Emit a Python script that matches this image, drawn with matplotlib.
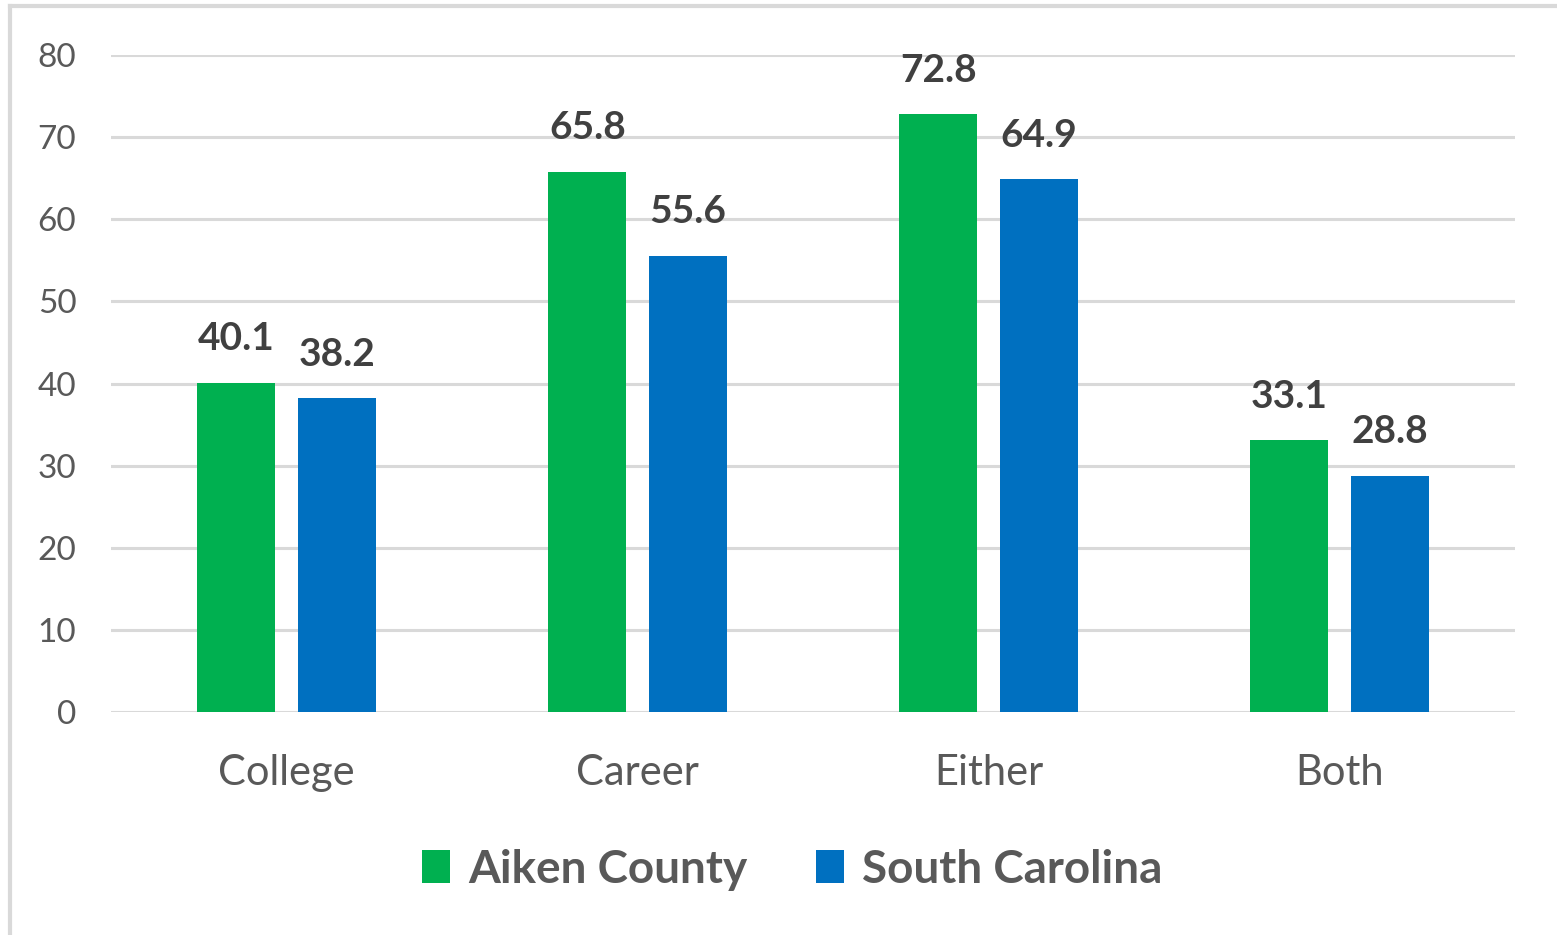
import matplotlib
matplotlib.use("Agg")
import matplotlib.pyplot as plt
import numpy as np
from matplotlib.lines import Line2D

categories = ["College", "Career", "Either", "Both"]
aiken = [40.1, 65.8, 72.8, 33.1]
south_carolina = [38.2, 55.6, 64.9, 28.8]
yticks = [0, 10, 20, 30, 40, 50, 60, 70, 80]

GREEN = "#00B050"
BLUE = "#0070C0"
GRID = "#D9D9D9"
TEXT = "#595959"

plt.rcParams["font.family"] = ["Lato", "DejaVu Sans"]

fig = plt.figure(figsize=(15.57, 9.35), dpi=100)
ax = fig.add_axes([0.0713, 0.2385, 0.9017, 0.7025])

x = np.arange(len(categories))
w = 0.222
off = 0.143
b1 = ax.bar(x - off, aiken, w, color=GREEN, label="Aiken County", zorder=3)
b2 = ax.bar(x + off, south_carolina, w, color=BLUE, label="South Carolina", zorder=3)

for bars in (b1, b2):
    for rect in bars:
        h = rect.get_height()
        ax.text(rect.get_x() + rect.get_width() / 2, h + 3.2, f"{h:.1f}",
                ha="center", va="bottom", fontsize=28, fontweight="bold",
                color="#404040")

ax.set_xlim(-0.5, len(categories) - 0.5)
ax.set_ylim(0, 80)
ax.set_yticks(yticks)
ax.set_xticks(x)
ax.set_xticklabels(categories, fontsize=30, color=TEXT)
ax.tick_params(axis="y", labelsize=24, labelcolor=TEXT, length=0, pad=25)
ax.tick_params(axis="x", length=0, pad=30)
ax.yaxis.grid(True, color=GRID, linewidth=2.2, zorder=0)
ax.set_axisbelow(True)
for s in ax.spines.values():
    s.set_visible(False)

leg = ax.legend(loc="center", bbox_to_anchor=(0.509, 0.07), bbox_transform=fig.transFigure,
                ncol=2, frameon=False, fontsize=33, handlelength=0.6, handleheight=0.75,
                handletextpad=0.4, columnspacing=1.5)
for t in leg.get_texts():
    t.set_color(TEXT)
    t.set_fontweight("bold")

# chart frame (left and top edges only)
fig.add_artist(Line2D([9.5 / 1557, 9.5 / 1557], [0, 1 - 6 / 935], transform=fig.transFigure,
                      color=GRID, linewidth=3))
fig.add_artist(Line2D([9.5 / 1557, 1], [1 - 6 / 935, 1 - 6 / 935], transform=fig.transFigure,
                      color=GRID, linewidth=3))

fig.savefig("out.png", dpi=100)
